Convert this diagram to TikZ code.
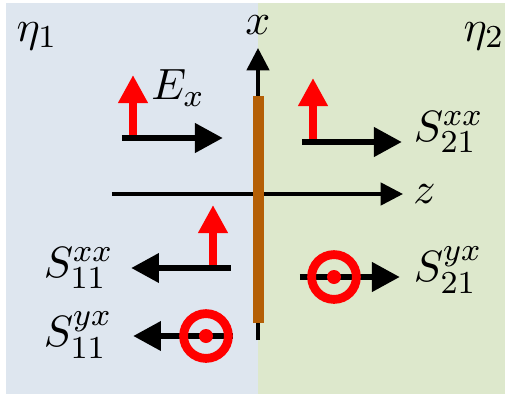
\documentclass[tikz,border=0pt]{standalone}
\usetikzlibrary{arrows.meta, positioning}
\definecolor{mediumone}{HTML}{DEE6EF}
\definecolor{mediumtwo}{HTML}{DDE8CC}
\definecolor{sheetbrown}{HTML}{B45F06}
\definecolor{fieldred}{HTML}{FF0000}

\begin{document}
\begin{tikzpicture}[
    x=0.25pt, y=-0.25pt,
    wave/.style   = {-{Triangle[length=7pt, width=7pt]}, line width=1.7pt, black},
    efield/.style = {-{Triangle[length=7pt, width=7pt]}, line width=1.9pt, fieldred},
    axis/.style   = {-{Triangle[length=5.6pt, width=5.6pt]}, line width=0.9pt, black},
    lbl/.style    = {font=\fontsize{11}{13}\selectfont, inner sep=0pt},
    ring/.style   = {circle, draw=fieldred, line width=2.2pt, minimum size=11.2pt,
                     inner sep=0pt, outer sep=0pt},
]

% fixed canvas: the two media side by side
\useasboundingbox (0,0) rectangle (505,397);
\fill[mediumone] (6,3)   rectangle (258,394);
\fill[mediumtwo] (258,3) rectangle (505,394);

\node[lbl] (etaone) at (37,36)  {$\eta_1$};
\node[lbl] (etatwo) at (484,36) {$\eta_2$};

% --- axes and the sheet ------------------------------------------------
\coordinate (xbot) at (258,340);
\coordinate (xtop) at (258,48);
\coordinate (zlft) at (112,194);
\coordinate (zrgt) at (403,194);
\draw[axis] (xbot) -- (xtop);
\draw[axis] (zlft) -- (zrgt);
\node[lbl, above=3.2pt of xtop] (xlbl) {$x$};
\node[lbl, right=2.4pt of zrgt] (zlbl) {$z$};
\fill[sheetbrown] (253,96) rectangle (264,323);

% --- incident wave -----------------------------------------------------
\coordinate (inc-s)  at (122,138);
\coordinate (inc-e)  at (223,138);
\coordinate (inc-f)  at (133,138);
\coordinate (inc-ft) at (133,75);
\draw[efield] (inc-f) -- (inc-ft);
\draw[wave] (inc-s) -- (inc-e);
\node[lbl] (exlbl) at (178,88) {$E_x$};

% --- transmitted, co-polarised ----------------------------------------
\coordinate (trxx-s)  at (302,142);
\coordinate (trxx-e)  at (402,142);
\coordinate (trxx-f)  at (313,142);
\coordinate (trxx-ft) at (313,78);
\draw[efield] (trxx-f) -- (trxx-ft);
\draw[wave] (trxx-s) -- (trxx-e);
\node[lbl, anchor=west] (strxx) at (413,132) {$S_{21}^{xx}$};

% --- reflected, co-polarised ------------------------------------------
\coordinate (rfxx-s)  at (231,268);
\coordinate (rfxx-e)  at (131,268);
\coordinate (rfxx-f)  at (213,268);
\coordinate (rfxx-ft) at (213,205);
\draw[efield] (rfxx-f) -- (rfxx-ft);
\draw[wave] (rfxx-s) -- (rfxx-e);
\node[lbl, anchor=west] (srfxx) at (43,268) {$S_{11}^{xx}$};

% --- transmitted, cross-polarised (field out of the page) -------------
\coordinate (tryx-s) at (300,277);
\coordinate (tryx-e) at (400,277);
\draw[wave] (tryx-s) -- (tryx-e);
\node[ring] (tryx-dot) at (334,277) {};
\fill[fieldred] (tryx-dot.center) circle (1.75pt);
\node[lbl, anchor=west] (stryx) at (413,270) {$S_{21}^{yx}$};

% --- reflected, cross-polarised ---------------------------------------
\coordinate (rfyx-s) at (233,336);
\coordinate (rfyx-e) at (133,336);
\draw[wave] (rfyx-s) -- (rfyx-e);
\node[ring] (rfyx-dot) at (206,336) {};
\fill[fieldred] (rfyx-dot.center) circle (1.75pt);
\node[lbl, anchor=west] (srfyx) at (43,335) {$S_{11}^{yx}$};

\end{tikzpicture}
\end{document}
